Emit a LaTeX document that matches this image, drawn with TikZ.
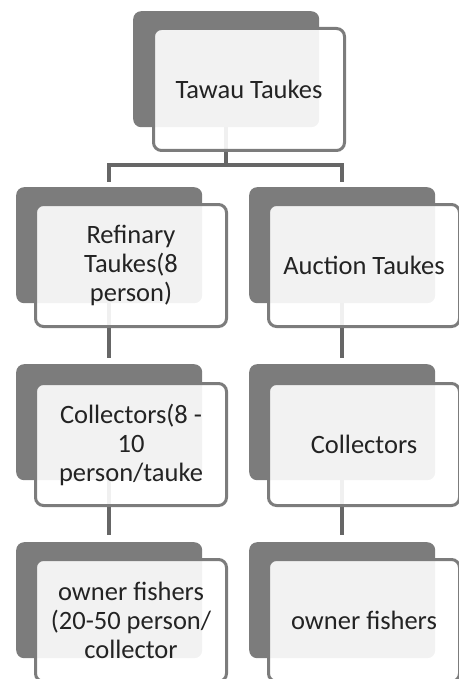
\documentclass[tikz,border=0pt]{standalone}
\usepackage{fontspec}
\setmainfont{Carlito}
\usetikzlibrary{calc}
\definecolor{dk}{RGB}{124,124,124}
\definecolor{cn}{RGB}{102,102,102}
\definecolor{txt}{RGB}{35,35,35}
\tikzset{
  back/.style={anchor=north west, fill=dk, draw=none, rounded corners=8pt,
    minimum width=186pt, minimum height=116pt, inner sep=0pt},
  front/.style={anchor=north west, draw=dk, line width=3pt, fill=white, fill opacity=0.9,
    text opacity=1, rounded corners=8pt, minimum width=191pt, minimum height=122pt,
    inner sep=2pt, align=center, text=txt,
    font=\fontsize{26.5}{29}\selectfont},
  conn/.style={draw=cn, line width=4pt},
}
\begin{document}
\begin{tikzpicture}[x=1pt,y=-1pt]
\useasboundingbox (0,0) rectangle (458,679);
% back boxes
\node[back] (d1) at (133,11) {};
\node[back] (d2l) at (16,187) {};
\node[back] (d2r) at (249,187) {};
\node[back] (d3l) at (16,364) {};
\node[back] (d3r) at (249,364) {};
\node[back] (d4l) at (16,542) {};
\node[back] (d4r) at (249,542) {};
% connectors
\coordinate (bus) at (0,165);
\draw[conn] (d1.south) -- (d1.south |- bus);
\draw[conn, shorten >=5pt] (d2l.north |- bus) -- (d2l.north);
\draw[conn, shorten >=5pt] (d2r.north |- bus) -- (d2r.north);
\draw[conn] ([xshift=-2pt]d2l.north |- bus) -- ([xshift=2pt]d2r.north |- bus);
\draw[conn, shorten >=6pt] (d2l.south) -- (d3l.north);
\draw[conn, shorten >=6pt] (d2r.south) -- (d3r.north);
\draw[conn, shorten >=7pt] (d3l.south) -- (d4l.north);
\draw[conn, shorten >=7pt] (d3r.south) -- (d4r.north);
% front boxes
\node[front] (f1) at ($(d1.north west)+(19,16)$) {Tawau Taukes};
\node[front] (f2l) at ($(d2l.north west)+(18,16)$) {Refinary\\Taukes(8\\person)};
\node[front] (f2r) at ($(d2r.north west)+(18,16)$) {Auction Taukes};
\node[front] (f3l) at ($(d3l.north west)+(18,18)$) {Collectors(8 -\\10\\person/tauke};
\node[front] (f3r) at ($(d3r.north west)+(18,18)$) {Collectors};
\node[front] (f4l) at ($(d4l.north west)+(18,16)$) {owner fishers\\(20-50 person/\\collector};
\node[front] (f4r) at ($(d4r.north west)+(18,16)$) {owner fishers};
\end{tikzpicture}
\end{document}
